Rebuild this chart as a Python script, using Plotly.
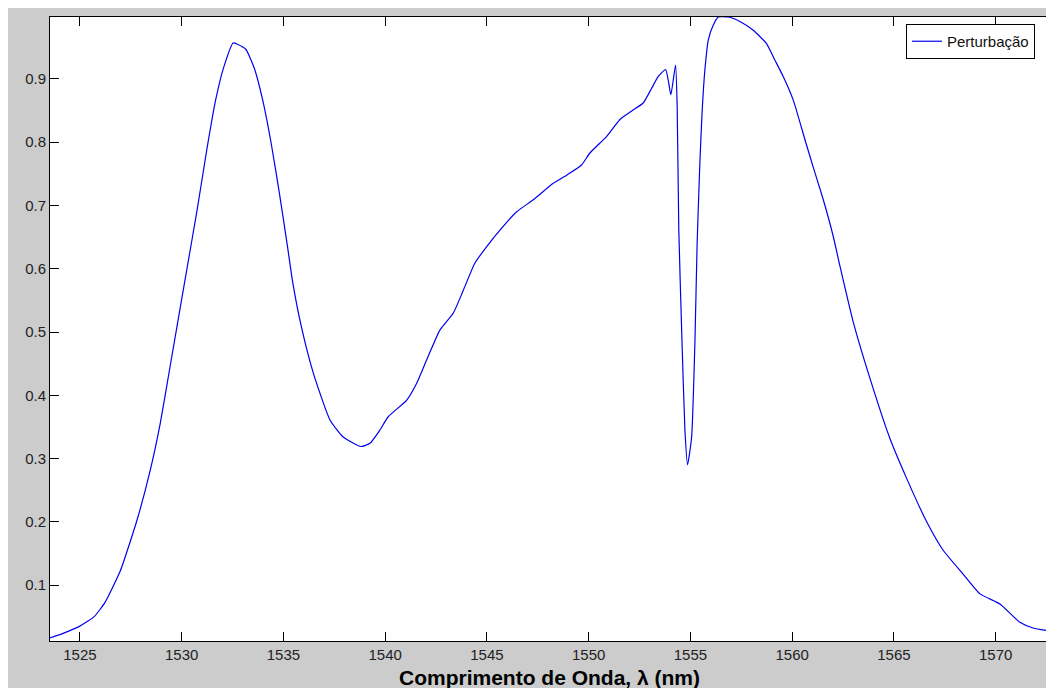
import plotly.graph_objects as go

wavelength_nm = [1523.5, 1524.2, 1525.0, 1525.7, 1526.24, 1526.98, 1527.80, 1528.46, 1528.95, 1529.45,
                 1530.11, 1530.77, 1531.26, 1531.67, 1532.08, 1532.53, 1532.74, 1533.15, 1533.57, 1533.98,
                 1534.39, 1534.80, 1535.21, 1535.46, 1535.87, 1536.47, 1537.29, 1537.94, 1538.81, 1539.25,
                 1539.74, 1540.15, 1541.05, 1541.55, 1542.04, 1542.69, 1543.35, 1543.84, 1544.41, 1544.99,
                 1545.64, 1546.46, 1547.28, 1548.26, 1548.92, 1549.65, 1550.06, 1550.88, 1551.54, 1552.19,
                 1552.68, 1553.09, 1553.42, 1553.78, 1553.91, 1554.04, 1554.27, 1554.35, 1554.43, 1554.57,
                 1554.73, 1554.86, 1555.06, 1555.22, 1555.33, 1555.47, 1555.58, 1555.71, 1555.88, 1556.12,
                 1556.37, 1556.86, 1557.43, 1558.09, 1558.74, 1559.15, 1559.56, 1560.05, 1560.63, 1561.03,
                 1561.53, 1562.02, 1562.35, 1563.00, 1563.82, 1564.80, 1565.62, 1566.61, 1567.42, 1568.41,
                 1569.23, 1570.21, 1571.19, 1571.84, 1573.3]

intensidade = [0.016, 0.024, 0.035, 0.050, 0.073, 0.122, 0.202, 0.282, 0.356, 0.449,
               0.572, 0.695, 0.793, 0.867, 0.920, 0.957, 0.955, 0.947, 0.917, 0.867,
               0.800, 0.720, 0.633, 0.578, 0.510, 0.435, 0.361, 0.334, 0.319, 0.324,
               0.345, 0.366, 0.392, 0.419, 0.456, 0.503, 0.530, 0.566, 0.609, 0.635,
               0.661, 0.690, 0.709, 0.735, 0.748, 0.764, 0.783, 0.809, 0.836, 0.851,
               0.862, 0.885, 0.904, 0.915, 0.898, 0.875, 0.922, 0.856, 0.661, 0.503,
               0.345, 0.290, 0.334, 0.482, 0.640, 0.772, 0.851, 0.914, 0.962, 0.985,
               0.998, 0.998, 0.991, 0.977, 0.956, 0.930, 0.904, 0.867, 0.804, 0.761,
               0.709, 0.651, 0.604, 0.516, 0.427, 0.332, 0.269, 0.200, 0.155, 0.117,
               0.086, 0.070, 0.041, 0.032, 0.024]

x_ticks = [1525, 1530, 1535, 1540, 1545, 1550, 1555, 1560, 1565, 1570]
y_ticks = [0.1, 0.2, 0.3, 0.4, 0.5, 0.6, 0.7, 0.8, 0.9]

series_name = "Perturbação"
x_title = "Comprimento de Onda, λ (nm)"

FONT = "Arial, Liberation Sans, sans-serif"

fig = go.Figure()
fig.add_trace(go.Scatter(
    x=wavelength_nm, y=intensidade, mode="lines", name=series_name,
    line=dict(color="#0000ee", width=1.2, shape="spline", smoothing=0.5),
))

axis_common = dict(
    showline=True, linecolor="black", linewidth=1, mirror="ticks",
    ticks="inside", ticklen=9, tickcolor="black", tickwidth=1,
    showgrid=False, zeroline=False, automargin=False,
    tickfont=dict(family=FONT, size=15, color="#222222"),
)

fig.update_xaxes(range=[1523.53, 1573.26], tickvals=x_ticks,
                 ticktext=[str(v) for v in x_ticks], **axis_common)
fig.update_yaxes(range=[0.0115, 0.998], tickvals=y_ticks,
                 ticktext=[f"{v:.1f}" for v in y_ticks], **axis_common)

fig.update_layout(
    width=1054, height=688,
    margin=dict(l=42, r=0, t=9, b=55, autoexpand=False),
    paper_bgcolor="#cccccc", plot_bgcolor="white",
    font=dict(family=FONT),
    showlegend=True,
    legend=dict(x=0.8458, y=0.9888, xanchor="left", yanchor="top",
                bgcolor="white", bordercolor="black", borderwidth=1,
                font=dict(family=FONT, size=15, color="#111111"),
                tracegroupgap=0, itemwidth=30),
    annotations=[dict(
        text="<b>" + x_title + "</b>", xref="paper", yref="paper",
        x=0.494, y=-0.0577, xanchor="center", yanchor="middle", showarrow=False,
        font=dict(family=FONT, size=21, color="black"),
    )],
)

fig.write_html("out.html")
